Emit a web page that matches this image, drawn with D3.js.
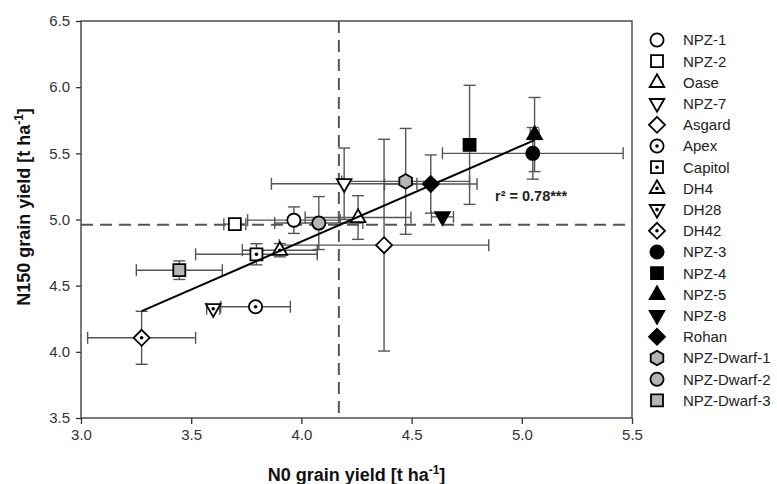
<!DOCTYPE html>
<html>
<head>
<meta charset="utf-8">
<script src="https://cdn.jsdelivr.net/npm/d3@7"></script>
<style>
  html, body { margin: 0; padding: 0; background: #fff; }
  svg { display: block; }
  text { font-family: "Liberation Sans", Arial, sans-serif; }
</style>
</head>
<body>
<svg id="chart" width="777" height="484"></svg>
<script>
// ---------------- data ----------------
const genotypes = ["NPZ-1","NPZ-2","Oase","NPZ-7","Asgard","Apex","Capitol","DH4","DH28","DH42",
                   "NPZ-3","NPZ-4","NPZ-5","NPZ-8","Rohan","NPZ-Dwarf-1","NPZ-Dwarf-2","NPZ-Dwarf-3"];
const n0Yield   = [3.966, 3.698, 4.257, 4.194, 4.375, 3.792, 3.796, 3.902, 3.600, 3.275,
                   5.050, 4.763, 5.058, 4.640, 4.587, 4.473, 4.079, 3.446];
const n150Yield = [4.995, 4.965, 5.015, 5.270, 4.806, 4.341, 4.737, 4.768, 4.326, 4.106,
                   5.500, 5.564, 5.642, 5.020, 5.268, 5.288, 4.973, 4.617];
const n0Err     = [0.21, 0.05, 0.24, 0.33, 0.475, 0.158, 0.276, 0.17, 0.03, 0.245,
                   0.41, 0.0, 0.02, 0.05, 0.21, 0.29, 0.20, 0.195];
const n150Err   = [0.10, 0.0, 0.165, 0.27, 0.80, 0.0, 0.08, 0.05, 0.0, 0.20,
                   0.195, 0.45, 0.28, 0.0, 0.22, 0.40, 0.20, 0.07];
const xTicks = [3.0, 3.5, 4.0, 4.5, 5.0, 5.5];
const yTicks = [3.5, 4.0, 4.5, 5.0, 5.5, 6.0, 6.5];
const meanN0 = 4.17, meanN150 = 4.96;
const regSlope = 0.7246, regIntercept = 1.935;
const r2Label = "r² = 0.78***";

// ---------------- styles ----------------
const shapes = ["circle","square","triUp","triDown","diamond","circle","square","triUp","triDown","diamond",
                "circle","square","triUp","triDown","diamond","hexagon","circle","square"];
const fills  = ["#fff","#fff","#fff","#fff","#fff","#fff","#fff","#fff","#fff","#fff",
                "#000","#000","#000","#000","#000","#b5b5b5","#b5b5b5","#b5b5b5"];
const dotted = [false,false,false,false,false,true,true,true,true,true,
                false,false,false,false,false,false,false,false];

(function () {
const svg = d3.select("#chart");
const pL = 81, pR = 632, pT = 21, pB = 418;
const x = d3.scaleLinear().domain([3.0, 5.5]).range([pL, pR]);
const y = d3.scaleLinear().domain([3.5, 6.5]).range([pB, pT]);
const axisColor = "#333";
const errColor = "#555";

function shapePath(type) {
  const p = d3.path();
  if (type === "circle") { p.arc(0, 0, 6.6, 0, 2 * Math.PI); p.closePath(); }
  else if (type === "square") { p.rect(-6, -6, 12, 12); }
  else if (type === "triUp") { p.moveTo(0, -8.2); p.lineTo(7.3, 4.6); p.lineTo(-7.3, 4.6); p.closePath(); }
  else if (type === "triDown") { p.moveTo(0, 8.2); p.lineTo(7.3, -4.6); p.lineTo(-7.3, -4.6); p.closePath(); }
  else if (type === "diamond") { p.moveTo(0, -8); p.lineTo(8, 0); p.lineTo(0, 8); p.lineTo(-8, 0); p.closePath(); }
  else if (type === "hexagon") {
    for (let k = 0; k < 6; k++) {
      const a = -Math.PI / 2 + k * Math.PI / 3;
      const px = 7.3 * Math.cos(a), py = 7.3 * Math.sin(a);
      if (k === 0) p.moveTo(px, py); else p.lineTo(px, py);
    }
    p.closePath();
  }
  return p.toString();
}

function drawMarker(g, i) {
  g.append("path").attr("d", shapePath(shapes[i]))
    .attr("fill", fills[i]).attr("stroke", "#000").attr("stroke-width", 1.8)
    .attr("stroke-linejoin", "miter");
  if (dotted[i]) g.append("circle").attr("r", 1.8).attr("fill", "#000");
}

// ---------------- axes ----------------
const xAxis = d3.axisBottom(x).tickValues(xTicks).tickFormat(d3.format(".1f"))
  .tickSize(6).tickSizeOuter(0).tickPadding(5);
const yAxis = d3.axisLeft(y).tickValues(yTicks).tickFormat(d3.format(".1f"))
  .tickSize(5).tickSizeOuter(0).tickPadding(6);

const gx = svg.append("g").attr("transform", `translate(0,${pB})`).call(xAxis);
const gy = svg.append("g").attr("transform", `translate(${pL},0)`).call(yAxis);
[gx, gy].forEach(g => {
  g.select(".domain").remove();
  g.selectAll("line").attr("stroke", axisColor).attr("stroke-width", 1.3);
  g.selectAll("text").attr("font-size", 15).attr("fill", "#333")
    .attr("font-family", "'Liberation Sans', Arial, sans-serif");
});

// frame
svg.append("rect").attr("x", pL).attr("y", pT)
  .attr("width", pR - pL).attr("height", pB - pT)
  .attr("fill", "none").attr("stroke", axisColor).attr("stroke-width", 1.3);

// mean dashed lines
svg.append("line").attr("x1", x(meanN0)).attr("x2", x(meanN0)).attr("y1", pT).attr("y2", pB)
  .attr("stroke", "#555").attr("stroke-width", 2).attr("stroke-dasharray", "12,7");
svg.append("line").attr("x1", pL).attr("x2", pR).attr("y1", y(meanN150)).attr("y2", y(meanN150))
  .attr("stroke", "#555").attr("stroke-width", 2).attr("stroke-dasharray", "12,7");

// error bars
const eb = svg.append("g").attr("stroke", errColor).attr("stroke-width", 1.4).attr("fill", "none");
const cap = 6;
genotypes.forEach((name, i) => {
  const cx = x(n0Yield[i]), cy = y(n150Yield[i]);
  if (n0Err[i] > 0) {
    const x1 = x(n0Yield[i] - n0Err[i]), x2 = x(n0Yield[i] + n0Err[i]);
    eb.append("line").attr("x1", x1).attr("x2", x2).attr("y1", cy).attr("y2", cy);
    eb.append("line").attr("x1", x1).attr("x2", x1).attr("y1", cy - cap).attr("y2", cy + cap);
    eb.append("line").attr("x1", x2).attr("x2", x2).attr("y1", cy - cap).attr("y2", cy + cap);
  }
  if (n150Err[i] > 0) {
    const y1 = y(n150Yield[i] - n150Err[i]), y2 = y(n150Yield[i] + n150Err[i]);
    eb.append("line").attr("x1", cx).attr("x2", cx).attr("y1", y1).attr("y2", y2);
    eb.append("line").attr("x1", cx - cap).attr("x2", cx + cap).attr("y1", y1).attr("y2", y1);
    eb.append("line").attr("x1", cx - cap).attr("x2", cx + cap).attr("y1", y2).attr("y2", y2);
  }
});

// markers
genotypes.forEach((name, i) => {
  const g = svg.append("g").attr("transform", `translate(${x(n0Yield[i])},${y(n150Yield[i])})`);
  drawMarker(g, i);
});

// regression line
const xMin = d3.min(n0Yield), xMax = d3.max(n0Yield);
svg.append("line")
  .attr("x1", x(xMin)).attr("y1", y(regIntercept + regSlope * xMin))
  .attr("x2", x(xMax)).attr("y2", y(regIntercept + regSlope * xMax))
  .attr("stroke", "#000").attr("stroke-width", 2);

// r2 label
svg.append("text").attr("x", 495).attr("y", 201).attr("font-size", 14.5).attr("font-weight", "bold")
  .attr("fill", "#222").text(r2Label);

// axis titles
const xt = svg.append("text").attr("x", (pL + pR) / 2).attr("y", 481)
  .attr("text-anchor", "middle").attr("font-size", 18).attr("font-weight", "bold").attr("fill", "#111");
xt.append("tspan").text("N0 grain yield [t ha");
xt.append("tspan").attr("font-size", 12).attr("dy", -7).text("-1");
xt.append("tspan").attr("dy", 7).text("]");

const yt = svg.append("text").attr("transform", `translate(30,207) rotate(-90)`)
  .attr("text-anchor", "middle").attr("font-size", 18).attr("font-weight", "bold").attr("fill", "#111");
yt.append("tspan").text("N150 grain yield [t ha");
yt.append("tspan").attr("font-size", 12).attr("dy", -7).text("-1");
yt.append("tspan").attr("dy", 7).text("]");

// legend
const legend = svg.append("g");
genotypes.forEach((name, i) => {
  const ly = 40 + i * 21.2;
  const g = legend.append("g").attr("transform", `translate(657,${ly})`);
  drawMarker(g, i);
  legend.append("text").attr("x", 683).attr("y", ly).attr("dy", "0.36em")
    .attr("font-size", 15).attr("fill", "#222").text(name);
});
})();
</script>
</body>
</html>
